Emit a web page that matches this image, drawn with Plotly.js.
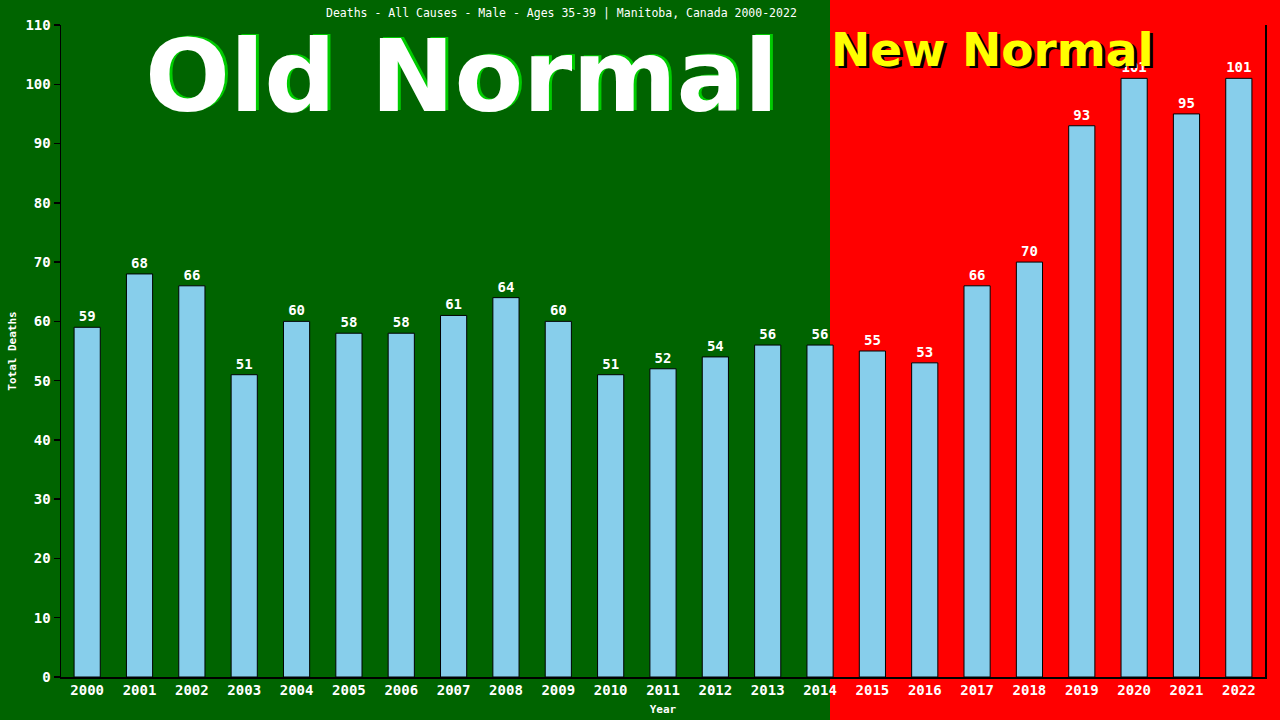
<!DOCTYPE html>
<html>
<head>
<meta charset="utf-8">
<script src="https://cdn.plot.ly/plotly-3.0.1.min.js"></script>
<style>
html,body{margin:0;padding:0;background:#006400;}
#chart{width:1280px;height:720px;}
</style>
</head>
<body>
<div id="chart"></div>
<script>
const years = ["2000","2001","2002","2003","2004","2005","2006","2007","2008","2009","2010","2011","2012","2013","2014","2015","2016","2017","2018","2019","2020","2021","2022"];
const deaths = [59,68,66,51,60,58,58,61,64,60,51,52,54,56,56,55,53,66,70,93,101,95,101];
const yTicks = [0,10,20,30,40,50,60,70,80,90,100,110];
const chartTitle = "Deaths - All Causes - Male - Ages 35-39 | Manitoba, Canada 2000-2022";

const L = 61, T = 25, W = 1204, H = 652;
const px = x => (x - L) / W;
const py = y => (T + H - y) / H;

const mono = "DejaVu Sans Mono, monospace";

const trace = {
  type: "bar",
  x: years,
  y: deaths,
  width: 0.5,
  marker: {color: "#87ceeb", line: {color: "#000000", width: 1}},
  text: deaths.map(String),
  textposition: "outside",
  cliponaxis: false,
  textfont: {family: mono, size: 14, color: "#ffffff", weight: "bold"},
  hoverinfo: "x+y"
};

const layout = {
  width: 1280, height: 720,
  margin: {l: L, r: 1280 - L - W, t: T, b: 720 - T - H},
  paper_bgcolor: "#006400",
  plot_bgcolor: "rgba(0,0,0,0)",
  showlegend: false,
  bargap: 0.5,
  xaxis: {
    type: "category",
    range: [-0.5, 22.5],
    showline: true, linecolor: "#000000", linewidth: 1.5,
    ticks: "", showgrid: false, zeroline: false,
    tickfont: {family: mono, size: 14, color: "#ffffff", weight: "bold"},
    title: {text: "Year", font: {family: mono, size: 11, color: "#ffffff", weight: "bold"}, standoff: 8}
  },
  yaxis: {
    range: [0, 110],
    tickvals: yTicks,
    showline: true, linecolor: "#000000", linewidth: 1.5, mirror: true,
    ticks: "outside", ticklen: 6, tickcolor: "#000000", tickwidth: 1.5,
    showgrid: false, zeroline: false,
    tickfont: {family: mono, size: 14, color: "#ffffff", weight: "bold"},
    title: {text: "Total Deaths", font: {family: mono, size: 11, color: "#ffffff", weight: "bold"}, standoff: 6}
  },
  shapes: [
    {type: "rect", xref: "paper", yref: "paper", x0: px(830), x1: px(1300), y0: py(740), y1: py(-20),
     fillcolor: "#ff0000", line: {width: 0}, layer: "below"}
  ],
  annotations: [
    {xref: "paper", yref: "paper", x: px(561), y: py(13), xanchor: "center", yanchor: "middle",
     text: chartTitle, showarrow: false, font: {family: mono, size: 11.5, color: "#ffffff"}},
    {xref: "paper", yref: "paper", x: px(464), y: py(75), xanchor: "center", yanchor: "middle",
     text: "Old Normal", showarrow: false, font: {family: "DejaVu Sans", size: 100, color: "#00cc00", weight: "bold"}},
    {xref: "paper", yref: "paper", x: px(461), y: py(76), xanchor: "center", yanchor: "middle",
     text: "Old Normal", showarrow: false, font: {family: "DejaVu Sans", size: 100, color: "#ffffff", weight: "bold"}},
    {xref: "paper", yref: "paper", x: px(995), y: py(52), xanchor: "center", yanchor: "middle",
     text: "New Normal", showarrow: false, font: {family: "DejaVu Sans", size: 47, color: "#000000", weight: "bold"}},
    {xref: "paper", yref: "paper", x: px(992), y: py(49), xanchor: "center", yanchor: "middle",
     text: "New Normal", showarrow: false, font: {family: "DejaVu Sans", size: 47, color: "#ffff00", weight: "bold"}}
  ]
};

Plotly.newPlot("chart", [trace], layout, {displayModeBar: false, staticPlot: true});
</script>
</body>
</html>
